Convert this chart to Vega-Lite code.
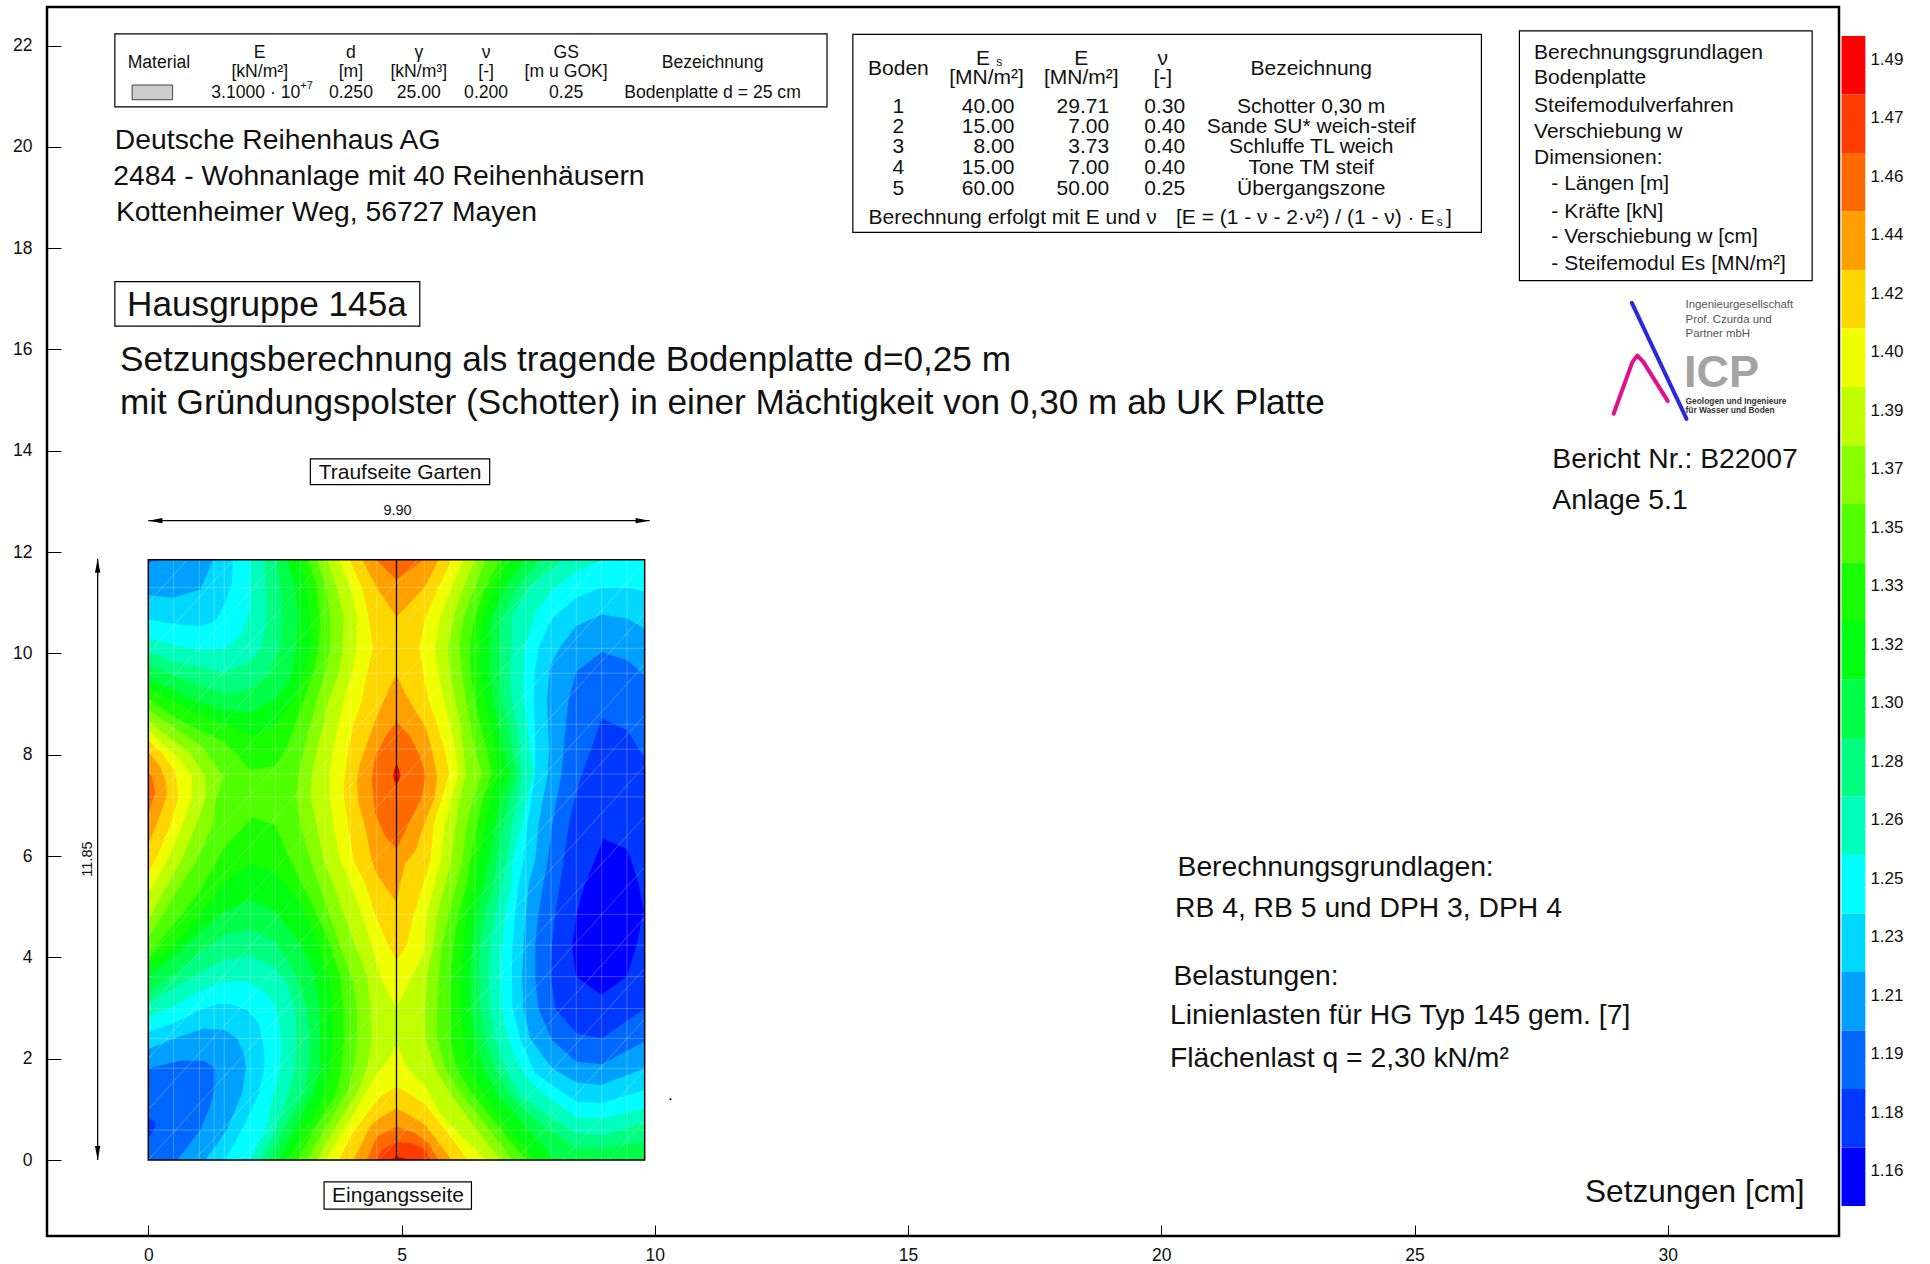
{"$schema":"https://vega.github.io/schema/vega-lite/v6.json","width":1792,"height":1229,"autosize":{"type":"none"},"padding":{"left":47,"top":7,"right":91,"bottom":28},"background":"white","config":{"view":{"stroke":"#000","strokeWidth":2.5},"text":{"font":"Liberation Sans","color":"#111"},"axis":{"labelFont":"Liberation Sans"}},
"datasets":{"poly":[
{"p":"35a","x":0,"y":0},{"p":"35a","x":9.8,"y":0},{"p":"35a","x":9.8,"y":11.85},{"p":"35a","x":0,"y":11.85},
{"p":"37r","x":3.33,"y":11.85},{"p":"37r","x":3.51,"y":11.3},{"p":"37r","x":3.59,"y":10.72},{"p":"37r","x":3.59,"y":10.1},{"p":"37r","x":3.49,"y":9.61},{"p":"37r","x":3.33,"y":9.08},{"p":"37r","x":3.2,"y":8.6},{"p":"37r","x":3.07,"y":8.11},{"p":"37r","x":2.97,"y":7.62},{"p":"37r","x":2.92,"y":7.17},{"p":"37r","x":3.0,"y":6.61},{"p":"37r","x":3.2,"y":5.92},{"p":"37r","x":3.43,"y":5.26},{"p":"37r","x":3.72,"y":4.41},{"p":"37r","x":4.05,"y":3.49},{"p":"37r","x":4.12,"y":2.96},{"p":"37r","x":4.12,"y":2.4},{"p":"37r","x":4.05,"y":1.81},{"p":"37r","x":3.92,"y":1.32},{"p":"37r","x":3.46,"y":0.59},{"p":"37r","x":3.14,"y":0},{"p":"37r","x":7.19,"y":0},{"p":"37r","x":6.65,"y":0.72},{"p":"37r","x":6.16,"y":1.32},{"p":"37r","x":5.86,"y":1.81},{"p":"37r","x":5.7,"y":2.4},{"p":"37r","x":5.7,"y":2.93},{"p":"37r","x":5.73,"y":3.62},{"p":"37r","x":5.8,"y":4.24},{"p":"37r","x":5.93,"y":4.84},{"p":"37r","x":6.09,"y":5.46},{"p":"37r","x":6.2,"y":5.92},{"p":"37r","x":6.29,"y":6.61},{"p":"37r","x":6.42,"y":7.17},{"p":"37r","x":6.59,"y":7.62},{"p":"37r","x":6.45,"y":8.11},{"p":"37r","x":6.36,"y":8.6},{"p":"37r","x":6.27,"y":9.08},{"p":"37r","x":6.19,"y":9.61},{"p":"37r","x":6.14,"y":10.1},{"p":"37r","x":6.22,"y":10.72},{"p":"37r","x":6.45,"y":11.3},{"p":"37r","x":6.66,"y":11.85},
{"p":"37l","x":0,"y":8.89},{"p":"37l","x":0.5,"y":8.55},{"p":"37l","x":1.06,"y":8.16},{"p":"37l","x":1.49,"y":7.57},{"p":"37l","x":1.32,"y":7.04},{"p":"37l","x":1.26,"y":6.58},{"p":"37l","x":0.96,"y":5.92},{"p":"37l","x":0.5,"y":5.2},{"p":"37l","x":0,"y":4.38},
{"p":"39r","x":3.53,"y":11.85},{"p":"39r","x":3.72,"y":11.3},{"p":"39r","x":3.86,"y":10.72},{"p":"39r","x":3.84,"y":10.1},{"p":"39r","x":3.76,"y":9.61},{"p":"39r","x":3.56,"y":9.08},{"p":"39r","x":3.46,"y":8.6},{"p":"39r","x":3.33,"y":8.11},{"p":"39r","x":3.23,"y":7.62},{"p":"39r","x":3.2,"y":7.17},{"p":"39r","x":3.33,"y":6.61},{"p":"39r","x":3.46,"y":5.92},{"p":"39r","x":3.72,"y":5.26},{"p":"39r","x":4.02,"y":4.41},{"p":"39r","x":4.32,"y":3.62},{"p":"39r","x":4.39,"y":2.99},{"p":"39r","x":4.41,"y":2.4},{"p":"39r","x":4.32,"y":1.81},{"p":"39r","x":4.12,"y":1.32},{"p":"39r","x":3.66,"y":0.59},{"p":"39r","x":3.33,"y":0},{"p":"39r","x":6.95,"y":0},{"p":"39r","x":6.45,"y":0.64},{"p":"39r","x":5.96,"y":1.32},{"p":"39r","x":5.66,"y":1.81},{"p":"39r","x":5.47,"y":2.4},{"p":"39r","x":5.47,"y":2.99},{"p":"39r","x":5.5,"y":3.62},{"p":"39r","x":5.63,"y":4.24},{"p":"39r","x":5.7,"y":4.84},{"p":"39r","x":5.86,"y":5.46},{"p":"39r","x":5.99,"y":5.92},{"p":"39r","x":6.06,"y":6.61},{"p":"39r","x":6.16,"y":7.17},{"p":"39r","x":6.27,"y":7.62},{"p":"39r","x":6.22,"y":8.11},{"p":"39r","x":6.16,"y":8.6},{"p":"39r","x":6.06,"y":9.08},{"p":"39r","x":5.96,"y":9.61},{"p":"39r","x":5.91,"y":10.1},{"p":"39r","x":6.03,"y":10.72},{"p":"39r","x":6.22,"y":11.3},{"p":"39r","x":6.45,"y":11.85},
{"p":"39l","x":0,"y":8.68},{"p":"39l","x":0.43,"y":8.32},{"p":"39l","x":0.83,"y":8.03},{"p":"39l","x":1.12,"y":7.57},{"p":"39l","x":1.14,"y":7.17},{"p":"39l","x":0.93,"y":6.58},{"p":"39l","x":0.66,"y":5.92},{"p":"39l","x":0.3,"y":5.3},{"p":"39l","x":0,"y":4.74},
{"p":"40m","x":3.76,"y":11.85},{"p":"40m","x":3.99,"y":11.3},{"p":"40m","x":4.12,"y":10.72},{"p":"40m","x":4.11,"y":10.1},{"p":"40m","x":4.02,"y":9.61},{"p":"40m","x":3.86,"y":9.08},{"p":"40m","x":3.76,"y":8.6},{"p":"40m","x":3.64,"y":8.11},{"p":"40m","x":3.58,"y":7.62},{"p":"40m","x":3.58,"y":7.17},{"p":"40m","x":3.66,"y":6.61},{"p":"40m","x":3.79,"y":5.92},{"p":"40m","x":3.99,"y":5.46},{"p":"40m","x":4.22,"y":4.84},{"p":"40m","x":4.41,"y":4.24},{"p":"40m","x":4.58,"y":3.62},{"p":"40m","x":4.9,"y":2.99},{"p":"40m","x":5.17,"y":3.55},{"p":"40m","x":5.43,"y":4.05},{"p":"40m","x":5.5,"y":4.84},{"p":"40m","x":5.65,"y":5.46},{"p":"40m","x":5.78,"y":5.92},{"p":"40m","x":5.85,"y":6.61},{"p":"40m","x":5.99,"y":7.17},{"p":"40m","x":6.12,"y":7.62},{"p":"40m","x":6.06,"y":8.11},{"p":"40m","x":5.96,"y":8.6},{"p":"40m","x":5.83,"y":9.08},{"p":"40m","x":5.73,"y":9.61},{"p":"40m","x":5.66,"y":10.1},{"p":"40m","x":5.76,"y":10.72},{"p":"40m","x":5.99,"y":11.3},{"p":"40m","x":6.22,"y":11.85},
{"p":"40b","x":4.9,"y":2.32},{"p":"40b","x":4.78,"y":2.05},{"p":"40b","x":4.48,"y":1.66},{"p":"40b","x":4.18,"y":1.12},{"p":"40b","x":3.86,"y":0.59},{"p":"40b","x":3.51,"y":0},{"p":"40b","x":6.68,"y":0},{"p":"40b","x":6.19,"y":0.46},{"p":"40b","x":5.76,"y":0.92},{"p":"40b","x":5.47,"y":1.45},{"p":"40b","x":5.1,"y":1.84},
{"p":"40l","x":0,"y":8.49},{"p":"40l","x":0.3,"y":8.19},{"p":"40l","x":0.57,"y":7.96},{"p":"40l","x":0.86,"y":7.57},{"p":"40l","x":0.86,"y":7.17},{"p":"40l","x":0.66,"y":6.58},{"p":"40l","x":0.38,"y":5.92},{"p":"40l","x":0,"y":5.26},
{"p":"42m","x":3.97,"y":11.85},{"p":"42m","x":4.22,"y":11.3},{"p":"42m","x":4.35,"y":10.72},{"p":"42m","x":4.43,"y":10.1},{"p":"42m","x":4.32,"y":9.61},{"p":"42m","x":4.22,"y":9.08},{"p":"42m","x":4.05,"y":8.6},{"p":"42m","x":3.95,"y":8.11},{"p":"42m","x":3.86,"y":7.43},{"p":"42m","x":3.86,"y":7.17},{"p":"42m","x":3.95,"y":6.61},{"p":"42m","x":4.05,"y":5.92},{"p":"42m","x":4.28,"y":5.46},{"p":"42m","x":4.48,"y":4.84},{"p":"42m","x":4.74,"y":4.24},{"p":"42m","x":4.9,"y":3.95},{"p":"42m","x":5.1,"y":4.24},{"p":"42m","x":5.24,"y":4.84},{"p":"42m","x":5.43,"y":5.46},{"p":"42m","x":5.57,"y":5.92},{"p":"42m","x":5.63,"y":6.61},{"p":"42m","x":5.8,"y":7.17},{"p":"42m","x":5.94,"y":7.62},{"p":"42m","x":5.85,"y":8.11},{"p":"42m","x":5.7,"y":8.6},{"p":"42m","x":5.53,"y":9.08},{"p":"42m","x":5.43,"y":9.61},{"p":"42m","x":5.35,"y":10.1},{"p":"42m","x":5.47,"y":10.72},{"p":"42m","x":5.73,"y":11.3},{"p":"42m","x":5.99,"y":11.85},
{"p":"42b","x":4.9,"y":1.45},{"p":"42b","x":4.58,"y":1.25},{"p":"42b","x":4.32,"y":0.92},{"p":"42b","x":3.99,"y":0.46},{"p":"42b","x":3.77,"y":0},{"p":"42b","x":6.31,"y":0},{"p":"42b","x":5.86,"y":0.59},{"p":"42b","x":5.47,"y":1.09},{"p":"42b","x":5.2,"y":1.28},
{"p":"42l","x":0,"y":8.29},{"p":"42l","x":0.3,"y":8.0},{"p":"42l","x":0.53,"y":7.66},{"p":"42l","x":0.6,"y":7.17},{"p":"42l","x":0.43,"y":6.58},{"p":"42l","x":0.14,"y":5.92},{"p":"42l","x":0,"y":5.69},
{"p":"44t","x":4.22,"y":11.85},{"p":"44t","x":4.51,"y":11.3},{"p":"44t","x":4.9,"y":10.72},{"p":"44t","x":5.45,"y":11.3},{"p":"44t","x":5.73,"y":11.85},
{"p":"44m","x":4.9,"y":9.59},{"p":"44m","x":4.74,"y":9.28},{"p":"44m","x":4.51,"y":8.75},{"p":"44m","x":4.32,"y":8.22},{"p":"44m","x":4.18,"y":7.83},{"p":"44m","x":4.12,"y":7.5},{"p":"44m","x":4.15,"y":7.04},{"p":"44m","x":4.28,"y":6.58},{"p":"44m","x":4.41,"y":5.92},{"p":"44m","x":4.5,"y":5.66},{"p":"44m","x":4.9,"y":5.08},{"p":"44m","x":4.97,"y":5.46},{"p":"44m","x":5.07,"y":5.85},{"p":"44m","x":5.27,"y":6.09},{"p":"44m","x":5.5,"y":6.78},{"p":"44m","x":5.66,"y":7.17},{"p":"44m","x":5.7,"y":7.59},{"p":"44m","x":5.6,"y":8.09},{"p":"44m","x":5.47,"y":8.55},{"p":"44m","x":5.27,"y":8.88},{"p":"44m","x":5.07,"y":9.21},
{"p":"44b","x":4.9,"y":1.02},{"p":"44b","x":4.55,"y":0.82},{"p":"44b","x":4.38,"y":0.66},{"p":"44b","x":4.05,"y":0},{"p":"44b","x":5.99,"y":0},{"p":"44b","x":5.47,"y":0.69},{"p":"44b","x":5.2,"y":0.86},
{"p":"44l","x":0,"y":8.06},{"p":"44l","x":0.24,"y":7.76},{"p":"44l","x":0.36,"y":7.43},{"p":"44l","x":0.36,"y":7.17},{"p":"44l","x":0.17,"y":6.64},{"p":"44l","x":0,"y":6.25},
{"p":"46t","x":4.5,"y":11.85},{"p":"46t","x":4.9,"y":11.45},{"p":"46t","x":5.43,"y":11.85},
{"p":"46m","x":4.9,"y":8.65},{"p":"46m","x":4.68,"y":8.36},{"p":"46m","x":4.48,"y":7.96},{"p":"46m","x":4.41,"y":7.5},{"p":"46m","x":4.48,"y":6.84},{"p":"46m","x":4.68,"y":6.38},{"p":"46m","x":4.9,"y":6.14},{"p":"46m","x":5.14,"y":6.64},{"p":"46m","x":5.39,"y":7.14},{"p":"46m","x":5.48,"y":7.57},{"p":"46m","x":5.37,"y":7.96},{"p":"46m","x":5.17,"y":8.36},
{"p":"46b","x":4.9,"y":0.66},{"p":"46b","x":4.51,"y":0.46},{"p":"46b","x":4.32,"y":0},{"p":"46b","x":5.73,"y":0},{"p":"46b","x":5.53,"y":0.33},{"p":"46b","x":5.27,"y":0.53},
{"p":"46l","x":0,"y":7.66},{"p":"46l","x":0.07,"y":7.57},{"p":"46l","x":0.14,"y":7.24},{"p":"46l","x":0,"y":6.84},
{"p":"47b","x":4.9,"y":0.36},{"p":"47b","x":4.61,"y":0.2},{"p":"47b","x":4.51,"y":0},{"p":"47b","x":5.57,"y":0},{"p":"47b","x":5.47,"y":0.2},{"p":"47b","x":5.2,"y":0.33},
{"p":"49b","x":4.78,"y":0},{"p":"49b","x":4.9,"y":0.08},{"p":"49b","x":5.2,"y":0},
{"p":"49m","x":4.9,"y":7.85},{"p":"49m","x":4.83,"y":7.6},{"p":"49m","x":4.9,"y":7.35},{"p":"49m","x":4.98,"y":7.6},
{"p":"33r","x":6.95,"y":11.85},{"p":"33r","x":6.65,"y":11.3},{"p":"33r","x":6.45,"y":10.72},{"p":"33r","x":6.34,"y":10.1},{"p":"33r","x":6.36,"y":9.61},{"p":"33r","x":6.45,"y":9.08},{"p":"33r","x":6.55,"y":8.6},{"p":"33r","x":6.68,"y":8.11},{"p":"33r","x":6.78,"y":7.62},{"p":"33r","x":6.62,"y":7.17},{"p":"33r","x":6.49,"y":6.61},{"p":"33r","x":6.36,"y":5.92},{"p":"33r","x":6.29,"y":5.46},{"p":"33r","x":6.12,"y":4.84},{"p":"33r","x":6.03,"y":4.24},{"p":"33r","x":5.96,"y":3.62},{"p":"33r","x":5.96,"y":2.99},{"p":"33r","x":5.96,"y":2.4},{"p":"33r","x":6.09,"y":1.81},{"p":"33r","x":6.39,"y":1.32},{"p":"33r","x":6.91,"y":0.66},{"p":"33r","x":7.46,"y":0},{"p":"33r","x":9.8,"y":0},{"p":"33r","x":9.8,"y":11.85},
{"p":"33u","x":0,"y":9.11},{"p":"33u","x":0.5,"y":8.75},{"p":"33u","x":0.99,"y":8.49},{"p":"33u","x":1.49,"y":8.26},{"p":"33u","x":1.82,"y":7.93},{"p":"33u","x":2.01,"y":7.7},{"p":"33u","x":2.51,"y":7.78},{"p":"33u","x":2.74,"y":8.16},{"p":"33u","x":2.93,"y":8.68},{"p":"33u","x":3.07,"y":9.08},{"p":"33u","x":3.26,"y":9.61},{"p":"33u","x":3.36,"y":10.1},{"p":"33u","x":3.39,"y":10.72},{"p":"33u","x":3.33,"y":11.3},{"p":"33u","x":3.16,"y":11.85},{"p":"33u","x":0,"y":11.85},
{"p":"33d","x":0,"y":4.01},{"p":"33d","x":0.5,"y":4.64},{"p":"33d","x":1.03,"y":5.33},{"p":"33d","x":1.49,"y":6.15},{"p":"33d","x":2.05,"y":6.76},{"p":"33d","x":2.51,"y":6.61},{"p":"33d","x":2.8,"y":5.92},{"p":"33d","x":3.13,"y":5.26},{"p":"33d","x":3.53,"y":4.41},{"p":"33d","x":3.79,"y":3.62},{"p":"33d","x":3.86,"y":2.96},{"p":"33d","x":3.86,"y":2.4},{"p":"33d","x":3.82,"y":1.81},{"p":"33d","x":3.72,"y":1.32},{"p":"33d","x":3.26,"y":0.59},{"p":"33d","x":2.95,"y":0},{"p":"33d","x":0,"y":0},
{"p":"32r","x":7.14,"y":11.85},{"p":"32r","x":6.85,"y":11.3},{"p":"32r","x":6.6,"y":10.72},{"p":"32r","x":6.55,"y":10.1},{"p":"32r","x":6.55,"y":9.61},{"p":"32r","x":6.65,"y":9.08},{"p":"32r","x":6.75,"y":8.6},{"p":"32r","x":6.85,"y":8.11},{"p":"32r","x":6.91,"y":7.62},{"p":"32r","x":6.78,"y":7.17},{"p":"32r","x":6.66,"y":6.61},{"p":"32r","x":6.52,"y":5.92},{"p":"32r","x":6.45,"y":5.46},{"p":"32r","x":6.29,"y":4.84},{"p":"32r","x":6.22,"y":4.24},{"p":"32r","x":6.16,"y":3.62},{"p":"32r","x":6.16,"y":2.99},{"p":"32r","x":6.22,"y":2.4},{"p":"32r","x":6.36,"y":1.81},{"p":"32r","x":6.62,"y":1.32},{"p":"32r","x":7.14,"y":0.59},{"p":"32r","x":7.64,"y":0},{"p":"32r","x":9.8,"y":0},{"p":"32r","x":9.8,"y":11.85},
{"p":"32u","x":0,"y":9.34},{"p":"32u","x":0.5,"y":9.05},{"p":"32u","x":0.99,"y":8.82},{"p":"32u","x":1.49,"y":8.62},{"p":"32u","x":2.05,"y":8.37},{"p":"32u","x":2.51,"y":8.6},{"p":"32u","x":2.87,"y":9.08},{"p":"32u","x":3.07,"y":9.61},{"p":"32u","x":3.2,"y":10.1},{"p":"32u","x":3.2,"y":10.72},{"p":"32u","x":3.13,"y":11.3},{"p":"32u","x":3.0,"y":11.85},{"p":"32u","x":0,"y":11.85},
{"p":"32d","x":0,"y":3.85},{"p":"32d","x":0.5,"y":4.24},{"p":"32d","x":0.99,"y":4.8},{"p":"32d","x":1.49,"y":5.46},{"p":"32d","x":2.01,"y":5.86},{"p":"32d","x":2.51,"y":5.66},{"p":"32d","x":2.93,"y":5.2},{"p":"32d","x":3.33,"y":4.34},{"p":"32d","x":3.59,"y":3.49},{"p":"32d","x":3.63,"y":2.96},{"p":"32d","x":3.63,"y":2.4},{"p":"32d","x":3.59,"y":1.81},{"p":"32d","x":3.49,"y":1.32},{"p":"32d","x":3.07,"y":0.59},{"p":"32d","x":2.76,"y":0},{"p":"32d","x":0,"y":0},
{"p":"30r","x":7.43,"y":11.85},{"p":"30r","x":7.05,"y":11.3},{"p":"30r","x":6.78,"y":10.72},{"p":"30r","x":6.75,"y":10.1},{"p":"30r","x":6.75,"y":9.61},{"p":"30r","x":6.82,"y":9.08},{"p":"30r","x":6.91,"y":8.6},{"p":"30r","x":7.01,"y":8.11},{"p":"30r","x":7.14,"y":7.62},{"p":"30r","x":6.98,"y":7.17},{"p":"30r","x":6.85,"y":6.61},{"p":"30r","x":6.72,"y":5.92},{"p":"30r","x":6.62,"y":5.46},{"p":"30r","x":6.49,"y":4.84},{"p":"30r","x":6.39,"y":4.24},{"p":"30r","x":6.36,"y":3.62},{"p":"30r","x":6.36,"y":2.99},{"p":"30r","x":6.45,"y":2.4},{"p":"30r","x":6.62,"y":1.81},{"p":"30r","x":6.91,"y":1.28},{"p":"30r","x":7.45,"y":0.66},{"p":"30r","x":8.03,"y":0},{"p":"30r","x":9.8,"y":0},{"p":"30r","x":9.8,"y":11.85},
{"p":"30u","x":0,"y":9.51},{"p":"30u","x":0.5,"y":9.28},{"p":"30u","x":0.99,"y":9.05},{"p":"30u","x":1.49,"y":8.88},{"p":"30u","x":2.01,"y":8.83},{"p":"30u","x":2.51,"y":9.11},{"p":"30u","x":2.8,"y":9.47},{"p":"30u","x":2.93,"y":10.1},{"p":"30u","x":2.97,"y":10.72},{"p":"30u","x":2.9,"y":11.3},{"p":"30u","x":2.74,"y":11.85},{"p":"30u","x":0,"y":11.85},
{"p":"30d","x":0,"y":3.62},{"p":"30d","x":0.5,"y":4.01},{"p":"30d","x":0.99,"y":4.47},{"p":"30d","x":1.49,"y":4.9},{"p":"30d","x":2.01,"y":5.14},{"p":"30d","x":2.51,"y":4.9},{"p":"30d","x":2.9,"y":4.41},{"p":"30d","x":3.26,"y":3.75},{"p":"30d","x":3.39,"y":2.96},{"p":"30d","x":3.39,"y":2.4},{"p":"30d","x":3.39,"y":1.81},{"p":"30d","x":3.26,"y":1.32},{"p":"30d","x":2.87,"y":0.59},{"p":"30d","x":2.57,"y":0},{"p":"30d","x":0,"y":0},
{"p":"28r","x":7.74,"y":11.85},{"p":"28r","x":7.28,"y":11.3},{"p":"28r","x":6.98,"y":10.72},{"p":"28r","x":6.95,"y":10.1},{"p":"28r","x":6.95,"y":9.61},{"p":"28r","x":6.98,"y":9.08},{"p":"28r","x":7.11,"y":8.6},{"p":"28r","x":7.18,"y":8.11},{"p":"28r","x":7.28,"y":7.62},{"p":"28r","x":7.14,"y":7.17},{"p":"28r","x":7.01,"y":6.61},{"p":"28r","x":6.88,"y":5.92},{"p":"28r","x":6.82,"y":5.46},{"p":"28r","x":6.65,"y":4.84},{"p":"28r","x":6.55,"y":4.24},{"p":"28r","x":6.52,"y":3.62},{"p":"28r","x":6.55,"y":2.99},{"p":"28r","x":6.65,"y":2.4},{"p":"28r","x":6.85,"y":1.81},{"p":"28r","x":7.14,"y":1.28},{"p":"28r","x":7.64,"y":0.79},{"p":"28r","x":8.45,"y":0.23},{"p":"28r","x":8.95,"y":0.23},{"p":"28r","x":9.8,"y":0.36},{"p":"28r","x":9.8,"y":11.85},
{"p":"28u","x":0,"y":9.77},{"p":"28u","x":0.5,"y":9.57},{"p":"28u","x":0.99,"y":9.38},{"p":"28u","x":1.49,"y":9.22},{"p":"28u","x":2.01,"y":9.29},{"p":"28u","x":2.38,"y":9.61},{"p":"28u","x":2.61,"y":10.1},{"p":"28u","x":2.64,"y":10.69},{"p":"28u","x":2.61,"y":11.3},{"p":"28u","x":2.53,"y":11.85},{"p":"28u","x":0,"y":11.85},
{"p":"28d","x":0,"y":3.29},{"p":"28d","x":0.5,"y":3.65},{"p":"28d","x":0.99,"y":4.08},{"p":"28d","x":1.49,"y":4.44},{"p":"28d","x":2.01,"y":4.55},{"p":"28d","x":2.51,"y":4.31},{"p":"28d","x":2.9,"y":3.68},{"p":"28d","x":3.13,"y":2.96},{"p":"28d","x":3.2,"y":2.4},{"p":"28d","x":3.16,"y":1.81},{"p":"28d","x":3.07,"y":1.32},{"p":"28d","x":2.67,"y":0.59},{"p":"28d","x":2.39,"y":0},{"p":"28d","x":0,"y":0},
{"p":"26r","x":8.16,"y":11.85},{"p":"26r","x":7.51,"y":11.3},{"p":"26r","x":7.18,"y":10.72},{"p":"26r","x":7.18,"y":10.1},{"p":"26r","x":7.14,"y":9.61},{"p":"26r","x":7.18,"y":9.08},{"p":"26r","x":7.28,"y":8.6},{"p":"26r","x":7.34,"y":8.11},{"p":"26r","x":7.38,"y":7.62},{"p":"26r","x":7.31,"y":7.17},{"p":"26r","x":7.18,"y":6.61},{"p":"26r","x":7.08,"y":5.92},{"p":"26r","x":6.98,"y":5.46},{"p":"26r","x":6.85,"y":4.84},{"p":"26r","x":6.75,"y":4.24},{"p":"26r","x":6.72,"y":3.62},{"p":"26r","x":6.75,"y":2.99},{"p":"26r","x":6.85,"y":2.4},{"p":"26r","x":7.05,"y":1.81},{"p":"26r","x":7.34,"y":1.28},{"p":"26r","x":7.97,"y":0.82},{"p":"26r","x":8.45,"y":0.53},{"p":"26r","x":8.95,"y":0.49},{"p":"26r","x":9.8,"y":0.72},{"p":"26r","x":9.8,"y":11.85},
{"p":"26u","x":0,"y":10.03},{"p":"26u","x":0.5,"y":9.84},{"p":"26u","x":0.99,"y":9.74},{"p":"26u","x":1.49,"y":9.61},{"p":"26u","x":2.01,"y":9.84},{"p":"26u","x":2.24,"y":10.1},{"p":"26u","x":2.34,"y":10.72},{"p":"26u","x":2.31,"y":11.3},{"p":"26u","x":2.29,"y":11.85},{"p":"26u","x":0,"y":11.85},
{"p":"26d","x":0,"y":3.09},{"p":"26d","x":0.5,"y":3.39},{"p":"26d","x":0.99,"y":3.68},{"p":"26d","x":1.49,"y":3.95},{"p":"26d","x":2.01,"y":4.03},{"p":"26d","x":2.47,"y":3.82},{"p":"26d","x":2.74,"y":3.49},{"p":"26d","x":2.9,"y":2.96},{"p":"26d","x":2.92,"y":2.4},{"p":"26d","x":2.9,"y":1.81},{"p":"26d","x":2.77,"y":1.32},{"p":"26d","x":2.51,"y":0.59},{"p":"26d","x":2.2,"y":0},{"p":"26d","x":0,"y":0},
{"p":"25r","x":8.95,"y":11.85},{"p":"25r","x":8.45,"y":11.61},{"p":"25r","x":7.97,"y":11.25},{"p":"25r","x":7.64,"y":10.79},{"p":"25r","x":7.43,"y":10.1},{"p":"25r","x":7.41,"y":9.61},{"p":"25r","x":7.41,"y":9.08},{"p":"25r","x":7.48,"y":8.6},{"p":"25r","x":7.54,"y":8.11},{"p":"25r","x":7.61,"y":7.62},{"p":"25r","x":7.48,"y":7.17},{"p":"25r","x":7.38,"y":6.61},{"p":"25r","x":7.19,"y":5.92},{"p":"25r","x":7.18,"y":5.46},{"p":"25r","x":7.05,"y":4.84},{"p":"25r","x":6.98,"y":4.24},{"p":"25r","x":6.95,"y":3.62},{"p":"25r","x":6.98,"y":2.99},{"p":"25r","x":7.11,"y":2.4},{"p":"25r","x":7.34,"y":1.81},{"p":"25r","x":7.7,"y":1.38},{"p":"25r","x":8.45,"y":0.86},{"p":"25r","x":8.95,"y":0.82},{"p":"25r","x":9.8,"y":1.02},{"p":"25r","x":9.8,"y":11.85},
{"p":"25u","x":0,"y":10.3},{"p":"25u","x":0.5,"y":10.16},{"p":"25u","x":1.03,"y":10.07},{"p":"25u","x":1.49,"y":10.08},{"p":"25u","x":1.82,"y":10.36},{"p":"25u","x":2.01,"y":10.86},{"p":"25u","x":2.01,"y":11.38},{"p":"25u","x":2.01,"y":11.85},{"p":"25u","x":0,"y":11.85},
{"p":"25d","x":0,"y":2.83},{"p":"25d","x":0.5,"y":3.03},{"p":"25d","x":0.99,"y":3.32},{"p":"25d","x":1.49,"y":3.52},{"p":"25d","x":1.95,"y":3.52},{"p":"25d","x":2.34,"y":3.29},{"p":"25d","x":2.54,"y":2.96},{"p":"25d","x":2.62,"y":2.4},{"p":"25d","x":2.61,"y":1.81},{"p":"25d","x":2.47,"y":1.32},{"p":"25d","x":2.31,"y":0.59},{"p":"25d","x":2.01,"y":0},{"p":"25d","x":0,"y":0},
{"p":"23r","x":9.8,"y":11.22},{"p":"23r","x":9.45,"y":11.3},{"p":"23r","x":8.95,"y":11.3},{"p":"23r","x":8.45,"y":11.1},{"p":"23r","x":7.97,"y":10.69},{"p":"23r","x":7.7,"y":10.1},{"p":"23r","x":7.63,"y":9.61},{"p":"23r","x":7.61,"y":9.08},{"p":"23r","x":7.63,"y":8.6},{"p":"23r","x":7.64,"y":8.11},{"p":"23r","x":7.63,"y":7.62},{"p":"23r","x":7.57,"y":7.17},{"p":"23r","x":7.48,"y":6.61},{"p":"23r","x":7.41,"y":5.92},{"p":"23r","x":7.31,"y":5.46},{"p":"23r","x":7.24,"y":4.84},{"p":"23r","x":7.19,"y":4.24},{"p":"23r","x":7.18,"y":3.62},{"p":"23r","x":7.19,"y":2.99},{"p":"23r","x":7.34,"y":2.4},{"p":"23r","x":7.64,"y":1.71},{"p":"23r","x":8.45,"y":1.15},{"p":"23r","x":8.95,"y":1.12},{"p":"23r","x":9.8,"y":1.38},
{"p":"23u","x":0,"y":10.67},{"p":"23u","x":0.5,"y":10.58},{"p":"23u","x":1.03,"y":10.53},{"p":"23u","x":1.32,"y":10.64},{"p":"23u","x":1.52,"y":10.99},{"p":"23u","x":1.65,"y":11.38},{"p":"23u","x":1.67,"y":11.85},{"p":"23u","x":0,"y":11.85},
{"p":"23d","x":0,"y":2.53},{"p":"23d","x":0.57,"y":2.73},{"p":"23d","x":1.03,"y":2.96},{"p":"23d","x":1.36,"y":3.08},{"p":"23d","x":1.62,"y":3.08},{"p":"23d","x":1.95,"y":2.96},{"p":"23d","x":2.18,"y":2.7},{"p":"23d","x":2.29,"y":2.17},{"p":"23d","x":2.29,"y":1.81},{"p":"23d","x":2.18,"y":1.32},{"p":"23d","x":1.91,"y":0.72},{"p":"23d","x":1.52,"y":0},{"p":"23d","x":0,"y":0},
{"p":"21r","x":9.8,"y":10.49},{"p":"21r","x":9.45,"y":10.69},{"p":"21r","x":8.95,"y":10.77},{"p":"21r","x":8.45,"y":10.54},{"p":"21r","x":8.13,"y":10.13},{"p":"21r","x":7.93,"y":9.74},{"p":"21r","x":7.87,"y":9.08},{"p":"21r","x":7.89,"y":8.6},{"p":"21r","x":7.91,"y":8.11},{"p":"21r","x":7.89,"y":7.62},{"p":"21r","x":7.8,"y":7.17},{"p":"21r","x":7.7,"y":6.61},{"p":"21r","x":7.64,"y":5.92},{"p":"21r","x":7.51,"y":5.46},{"p":"21r","x":7.45,"y":4.84},{"p":"21r","x":7.41,"y":4.24},{"p":"21r","x":7.38,"y":3.62},{"p":"21r","x":7.41,"y":2.99},{"p":"21r","x":7.54,"y":2.4},{"p":"21r","x":7.97,"y":1.81},{"p":"21r","x":8.45,"y":1.53},{"p":"21r","x":8.95,"y":1.48},{"p":"21r","x":9.8,"y":1.81},
{"p":"21u","x":0,"y":11.15},{"p":"21u","x":0.5,"y":11.1},{"p":"21u","x":1.03,"y":11.26},{"p":"21u","x":1.28,"y":11.85},{"p":"21u","x":0,"y":11.85},
{"p":"21d","x":0,"y":2.19},{"p":"21d","x":0.5,"y":2.4},{"p":"21d","x":1.09,"y":2.59},{"p":"21d","x":1.49,"y":2.57},{"p":"21d","x":1.75,"y":2.4},{"p":"21d","x":1.88,"y":2.11},{"p":"21d","x":1.93,"y":1.81},{"p":"21d","x":1.85,"y":1.32},{"p":"21d","x":1.55,"y":0.59},{"p":"21d","x":1.13,"y":0},{"p":"21d","x":0,"y":0},
{"p":"19r","x":9.8,"y":9.57},{"p":"19r","x":9.45,"y":9.87},{"p":"19r","x":8.95,"y":10.03},{"p":"19r","x":8.45,"y":9.64},{"p":"19r","x":8.3,"y":9.08},{"p":"19r","x":8.24,"y":8.6},{"p":"19r","x":8.2,"y":8.11},{"p":"19r","x":8.16,"y":7.62},{"p":"19r","x":8.07,"y":7.17},{"p":"19r","x":7.97,"y":6.61},{"p":"19r","x":7.89,"y":5.92},{"p":"19r","x":7.8,"y":5.46},{"p":"19r","x":7.7,"y":4.84},{"p":"19r","x":7.64,"y":4.24},{"p":"19r","x":7.64,"y":3.62},{"p":"19r","x":7.7,"y":2.99},{"p":"19r","x":7.97,"y":2.37},{"p":"19r","x":8.45,"y":1.94},{"p":"19r","x":8.95,"y":1.89},{"p":"19r","x":9.8,"y":2.34},
{"p":"19u","x":0,"y":11.85},{"p":"19u","x":0.24,"y":11.85},{"p":"19u","x":0,"y":11.79},
{"p":"19d","x":0,"y":1.81},{"p":"19d","x":0.63,"y":1.96},{"p":"19d","x":1.09,"y":1.96},{"p":"19d","x":1.32,"y":1.81},{"p":"19d","x":1.32,"y":1.45},{"p":"19d","x":1.22,"y":1.05},{"p":"19d","x":1.03,"y":0.59},{"p":"19d","x":0.57,"y":0},{"p":"19d","x":0,"y":0},
{"p":"18r","x":9.8,"y":7.93},{"p":"18r","x":9.45,"y":8.49},{"p":"18r","x":8.95,"y":8.72},{"p":"18r","x":8.76,"y":8.16},{"p":"18r","x":8.56,"y":7.62},{"p":"18r","x":8.43,"y":7.17},{"p":"18r","x":8.3,"y":6.61},{"p":"18r","x":8.2,"y":5.92},{"p":"18r","x":8.13,"y":5.46},{"p":"18r","x":8.03,"y":4.84},{"p":"18r","x":7.97,"y":4.24},{"p":"18r","x":7.95,"y":3.62},{"p":"18r","x":8.03,"y":2.99},{"p":"18r","x":8.45,"y":2.5},{"p":"18r","x":8.95,"y":2.4},{"p":"18r","x":9.8,"y":2.99},
{"p":"18d","x":0,"y":0.82},{"p":"18d","x":0.14,"y":0.76},{"p":"18d","x":0.14,"y":0.66},{"p":"18d","x":0.04,"y":0.47},{"p":"18d","x":0,"y":0.46},
{"p":"16r","x":8.98,"y":6.34},{"p":"16r","x":9.45,"y":6.14},{"p":"16r","x":9.53,"y":5.92},{"p":"16r","x":9.68,"y":5.46},{"p":"16r","x":9.78,"y":4.93},{"p":"16r","x":9.64,"y":4.24},{"p":"16r","x":9.45,"y":3.62},{"p":"16r","x":8.95,"y":3.26},{"p":"16r","x":8.44,"y":3.62},{"p":"16r","x":8.37,"y":4.24},{"p":"16r","x":8.45,"y":4.84},{"p":"16r","x":8.62,"y":5.46},{"p":"16r","x":8.82,"y":5.92}
],
"mesh":[{"x":0.5,"x2":0.5,"y":0,"y2":11.85},{"x":1.01,"x2":1.01,"y":0,"y2":11.85},{"x":1.3,"x2":1.3,"y":0,"y2":11.85},{"x":1.5,"x2":1.5,"y":0,"y2":11.85},{"x":2.01,"x2":2.01,"y":0,"y2":11.85},{"x":2.51,"x2":2.51,"y":0,"y2":11.85},{"x":3.0,"x2":3.0,"y":0,"y2":11.85},{"x":3.49,"x2":3.49,"y":0,"y2":11.85},{"x":3.99,"x2":3.99,"y":0,"y2":11.85},{"x":4.51,"x2":4.51,"y":0,"y2":11.85},{"x":5.45,"x2":5.45,"y":0,"y2":11.85},{"x":5.96,"x2":5.96,"y":0,"y2":11.85},{"x":6.45,"x2":6.45,"y":0,"y2":11.85},{"x":6.95,"x2":6.95,"y":0,"y2":11.85},{"x":7.45,"x2":7.45,"y":0,"y2":11.85},{"x":7.95,"x2":7.95,"y":0,"y2":11.85},{"x":8.45,"x2":8.45,"y":0,"y2":11.85},{"x":8.95,"x2":8.95,"y":0,"y2":11.85},{"x":9.45,"x2":9.45,"y":0,"y2":11.85},
{"x":0,"x2":9.8,"y":11.3,"y2":11.3},{"x":0,"x2":9.8,"y":10.1,"y2":10.1},{"x":0,"x2":9.8,"y":9.61,"y2":9.61},{"x":0,"x2":9.8,"y":8.6,"y2":8.6},{"x":0,"x2":9.8,"y":8.11,"y2":8.11},{"x":0,"x2":9.8,"y":7.62,"y2":7.62},{"x":0,"x2":9.8,"y":7.17,"y2":7.17},{"x":0,"x2":9.8,"y":4.85,"y2":4.85},{"x":0,"x2":9.8,"y":4.24,"y2":4.24},{"x":0,"x2":9.8,"y":3.62,"y2":3.62},{"x":0,"x2":9.8,"y":2.99,"y2":2.99},{"x":0,"x2":9.8,"y":2.4,"y2":2.4},{"x":0,"x2":9.8,"y":1.81,"y2":1.81},{"x":0,"x2":9.8,"y":0.59,"y2":0.59},
{"x":0,"x2":0.77,"y":11,"y2":11.85},{"x":0,"x2":1.68,"y":10,"y2":11.85},{"x":0,"x2":2.59,"y":9,"y2":11.85},{"x":0,"x2":3.5,"y":8,"y2":11.85},{"x":0,"x2":4.41,"y":7,"y2":11.85},{"x":0,"x2":5.32,"y":6,"y2":11.85},{"x":0,"x2":6.23,"y":5,"y2":11.85},{"x":0,"x2":7.14,"y":4,"y2":11.85},{"x":0,"x2":8.05,"y":3,"y2":11.85},{"x":0,"x2":8.95,"y":2,"y2":11.85},{"x":0,"x2":9.8,"y":1,"y2":11.78},{"x":0,"x2":9.8,"y":0,"y2":10.78},{"x":0.91,"x2":9.8,"y":0,"y2":9.78},{"x":1.82,"x2":9.8,"y":0,"y2":8.78},{"x":2.73,"x2":9.8,"y":0,"y2":7.78},{"x":3.64,"x2":9.8,"y":0,"y2":6.78},{"x":4.55,"x2":9.8,"y":0,"y2":5.78},{"x":5.45,"x2":9.8,"y":0,"y2":4.78},{"x":6.36,"x2":9.8,"y":0,"y2":3.78},{"x":7.27,"x2":9.8,"y":0,"y2":2.78},{"x":8.18,"x2":9.8,"y":0,"y2":1.78},{"x":9.09,"x2":9.8,"y":0,"y2":0.78}],
"bands":[{"p":"49b","t":"1.49","x":33.43,"x2":33.9,"lx":34.0,"y":22.19,"y2":21.035,"m":21.72},{"p":"47b","t":"1.47","x":33.43,"x2":33.9,"lx":34.0,"y":21.035,"y2":19.88,"m":20.565},{"p":"46m","t":"1.46","x":33.43,"x2":33.9,"lx":34.0,"y":19.88,"y2":18.725,"m":19.41},{"p":"44m","t":"1.44","x":33.43,"x2":33.9,"lx":34.0,"y":18.725,"y2":17.57,"m":18.255},{"p":"42m","t":"1.42","x":33.43,"x2":33.9,"lx":34.0,"y":17.57,"y2":16.415,"m":17.1},{"p":"40m","t":"1.40","x":33.43,"x2":33.9,"lx":34.0,"y":16.415,"y2":15.26,"m":15.945},{"p":"39r","t":"1.39","x":33.43,"x2":33.9,"lx":34.0,"y":15.26,"y2":14.105,"m":14.79},{"p":"37r","t":"1.37","x":33.43,"x2":33.9,"lx":34.0,"y":14.105,"y2":12.95,"m":13.635},{"p":"35a","t":"1.35","x":33.43,"x2":33.9,"lx":34.0,"y":12.95,"y2":11.795,"m":12.48},{"p":"33r","t":"1.33","x":33.43,"x2":33.9,"lx":34.0,"y":11.795,"y2":10.64,"m":11.325},{"p":"32r","t":"1.32","x":33.43,"x2":33.9,"lx":34.0,"y":10.64,"y2":9.485,"m":10.17},{"p":"30r","t":"1.30","x":33.43,"x2":33.9,"lx":34.0,"y":9.485,"y2":8.33,"m":9.015},{"p":"28r","t":"1.28","x":33.43,"x2":33.9,"lx":34.0,"y":8.33,"y2":7.175,"m":7.86},{"p":"26r","t":"1.26","x":33.43,"x2":33.9,"lx":34.0,"y":7.175,"y2":6.02,"m":6.705},{"p":"25r","t":"1.25","x":33.43,"x2":33.9,"lx":34.0,"y":6.02,"y2":4.865,"m":5.55},{"p":"23r","t":"1.23","x":33.43,"x2":33.9,"lx":34.0,"y":4.865,"y2":3.71,"m":4.395},{"p":"21r","t":"1.21","x":33.43,"x2":33.9,"lx":34.0,"y":3.71,"y2":2.555,"m":3.24},{"p":"19r","t":"1.19","x":33.43,"x2":33.9,"lx":34.0,"y":2.555,"y2":1.4,"m":2.085},{"p":"18r","t":"1.18","x":33.43,"x2":33.9,"lx":34.0,"y":1.4,"y2":0.245,"m":0.93},{"p":"16r","t":"1.16","x":33.43,"x2":33.9,"lx":34.0,"y":0.245,"y2":-0.91,"m":-0.225}]},
"encoding":{"x":{"field":"x","type":"quantitative","title":null,"scale":{"domain":[-2.0,33.38],"nice":false,"zero":false},"axis":{"values":[0,5,10,15,20,25,30],"grid":false,"domain":false,"tickSize":-11,"tickColor":"#000","tickWidth":1,"labelFontSize":17.5,"labelColor":"#111","labelPadding":21,"labelFlush":false}},"y":{"field":"y","type":"quantitative","title":null,"scale":{"domain":[-1.5,22.76],"nice":false,"zero":false},"axis":{"values":[0,2,4,6,8,10,12,14,16,18,20,22],"grid":false,"domain":false,"tickSize":-14,"tickColor":"#000","tickWidth":1,"labelFontSize":17.5,"labelColor":"#111","labelPadding":29}}},
"layer":[
{"data":{"name":"poly"},"mark":{"type":"line","interpolate":"linear-closed","strokeWidth":0,"clip":false},"encoding":{"detail":{"field":"p"},"order":{"value":null},"fill":{"field":"p","type":"nominal","legend":null,"scale":{"domain":["35a","37r","37l","39r","39l","40m","40b","40l","42m","42b","42l","44t","44m","44b","44l","46t","46m","46b","46l","47b","49b","49m","33r","33u","33d","32r","32u","32d","30r","30u","30d","28r","28u","28d","26r","26u","26d","25r","25u","25d","23r","23u","23d","21r","21u","21d","19r","19u","19d","18r","18d","16r"],"range":["#50ff00","#88ff00","#88ff00","#c0ff00","#c0ff00","#f0ff00","#f0ff00","#f0ff00","#ffd700","#ffd700","#ffd700","#ffa000","#ffa000","#ffa000","#ffa000","#ff6a00","#ff6a00","#ff6a00","#ff6a00","#ff3c00","#ff0000","#ff0000","#1aff00","#1aff00","#1aff00","#00ff10","#00ff10","#00ff10","#00ff48","#00ff48","#00ff48","#00ff80","#00ff80","#00ff80","#00ffbc","#00ffbc","#00ffbc","#00ffff","#00ffff","#00ffff","#00d8ff","#00d8ff","#00d8ff","#00a0ff","#00a0ff","#00a0ff","#0068ff","#0068ff","#0068ff","#0038ff","#0038ff","#0000ff"]}}}},
{"data":{"name":"mesh"},"mark":{"type":"rule","color":"#fff","opacity":0.25,"strokeWidth":1},"encoding":{"x2":{"field":"x2"},"y2":{"field":"y2"}}},
{"data":{"name":"bands"},"mark":{"type":"rect"},"encoding":{"x2":{"field":"x2"},"y2":{"field":"y2"},"fill":{"field":"p","type":"nominal","legend":null}}},
{"data":{"name":"bands"},"mark":{"type":"text","align":"left","baseline":"middle","fontSize":17},"encoding":{"x":{"field":"lx","type":"quantitative"},"y":{"field":"m","type":"quantitative"},"text":{"field":"t"}}},
{"data":{"values":[{"x":0,"x2":9.8,"y":0,"y2":11.85}]},"mark":{"type":"rect","fill":null,"stroke":"#000","strokeWidth":1.5},"encoding":{"x2":{"field":"x2"},"y2":{"field":"y2"}}},
{"data":{"values":[{"x":4.9,"x2":4.9,"y":0,"y2":11.85},{"x":0,"x2":9.9,"y":12.62,"y2":12.62},{"x":-1,"x2":-1,"y":0,"y2":11.87}]},"mark":{"type":"rule","color":"#000","strokeWidth":1.3},"encoding":{"x2":{"field":"x2"},"y2":{"field":"y2"}}},
{"data":{"values":[{"d":"l","x":0.14,"y":12.62},{"d":"r","x":9.76,"y":12.62},{"d":"u","x":-1,"y":11.73},{"d":"n","x":-1,"y":0.14}]},"mark":{"type":"point","filled":true,"color":"#000","size":196,"opacity":1},"encoding":{"shape":{"field":"d","type":"nominal","legend":null,"scale":{"domain":["l","r","u","n"],"range":["M-1,0L1,-0.38L1,0.38Z","M1,0L-1,-0.38L-1,0.38Z","M0,-1L-0.38,1L0.38,1Z","M0,1L-0.38,-1L0.38,-1Z"]}}}},
{"data":{"values":[{"x":10.31,"y":1.2}]},"mark":{"type":"point","filled":true,"color":"#000","size":4,"opacity":1}},
{"data":{"values":[{"x":-0.66,"x2":13.4,"y":22.23,"y2":20.79},{"x":13.91,"x2":26.32,"y":22.22,"y2":18.31},{"x":27.07,"x2":32.85,"y":22.29,"y2":17.36},{"x":-0.66,"x2":5.36,"y":17.34,"y2":16.46},{"x":3.2,"x2":6.74,"y":13.84,"y2":13.33},{"x":3.47,"x2":6.38,"y":-0.43,"y2":-0.97}]},"mark":{"type":"rect","fill":"#fff","stroke":"#000","strokeWidth":1.2},"encoding":{"x2":{"field":"x2"},"y2":{"field":"y2"}}},
{"data":{"values":[{"x":-0.32,"x2":0.48,"y":21.22,"y2":20.93}]},"mark":{"type":"rect","fill":"#cccccc","stroke":"#444","strokeWidth":1},"encoding":{"x2":{"field":"x2"},"y2":{"field":"y2"}}},
{"data":{"values":[{"x":29.29,"y":16.92},{"x":30.37,"y":14.63}]},"mark":{"type":"line","color":"#2a2adc","strokeWidth":4,"strokeCap":"round"},"encoding":{"order":{"value":null}}},
{"data":{"values":[{"x":28.93,"y":14.73},{"x":29.3,"y":15.75},{"x":29.4,"y":15.88},{"x":29.52,"y":15.75},{"x":30.0,"y":14.98}]},"mark":{"type":"line","color":"#e0108c","strokeWidth":4,"strokeCap":"round","strokeJoin":"round"},"encoding":{"order":{"value":null}}},
{"data":{"values":[{"x":30.32,"y":15.53,"t":"ICP"}]},"mark":{"type":"text","align":"left","baseline":"middle","fontSize":45,"fontWeight":"bold","color":"#a3a3a3"},"encoding":{"text":{"field":"t"}}},
{"data":{"values":[{"x":30.35,"y":16.87,"t":"Ingenieurgesellschaft"},{"x":30.35,"y":16.58,"t":"Prof. Czurda und"},{"x":30.35,"y":16.31,"t":"Partner mbH"}]},"mark":{"type":"text","align":"left","baseline":"middle","fontSize":11.4,"color":"#555"},"encoding":{"text":{"field":"t"}}},
{"data":{"values":[{"x":30.35,"y":14.98,"t":"Geologen und Ingenieure"},{"x":30.35,"y":14.81,"t":"für Wasser und Boden"}]},"mark":{"type":"text","align":"left","baseline":"middle","fontSize":8.4,"fontWeight":"bold","color":"#333"},"encoding":{"text":{"field":"t"}}},
{"data":{"values":[{"x":0.21,"y":21.68,"t":"Material"},{"x":2.2,"y":21.88,"t":"E"},{"x":2.2,"y":21.49,"t":"[kN/m²]"},{"x":4.0,"y":21.88,"t":"d"},{"x":4.0,"y":21.49,"t":"[m]"},{"x":4.0,"y":21.08,"t":"0.250"},{"x":5.34,"y":21.88,"t":"γ"},{"x":5.34,"y":21.49,"t":"[kN/m³]"},{"x":5.34,"y":21.08,"t":"25.00"},{"x":6.67,"y":21.88,"t":"ν"},{"x":6.67,"y":21.49,"t":"[-]"},{"x":6.67,"y":21.08,"t":"0.200"},{"x":8.25,"y":21.88,"t":"GS"},{"x":8.25,"y":21.49,"t":"[m u GOK]"},{"x":8.25,"y":21.08,"t":"0.25"},{"x":11.14,"y":21.68,"t":"Bezeichnung"},{"x":11.14,"y":21.08,"t":"Bodenplatte d = 25 cm"}]},"mark":{"type":"text","baseline":"middle","fontSize":17.6,"dy":1},"encoding":{"text":{"field":"t"}}},
{"data":{"values":[{"x":3.0,"y":21.08,"t":"3.1000 · 10"}]},"mark":{"type":"text","align":"right","baseline":"middle","fontSize":17.6,"dy":1},"encoding":{"text":{"field":"t"}}},
{"data":{"values":[{"x":3.0,"y":21.2,"t":"+7"}]},"mark":{"type":"text","align":"left","baseline":"middle","fontSize":11},"encoding":{"text":{"field":"t"}}},
{"data":{"values":[{"x":14.81,"y":21.56,"t":"Boden"},{"x":18.42,"y":21.76,"t":"E"},{"x":16.48,"y":21.76,"t":"E"},{"x":16.55,"y":21.37,"t":"[MN/m²]"},{"x":18.42,"y":21.37,"t":"[MN/m²]"},{"x":20.03,"y":21.76,"t":"ν"},{"x":20.03,"y":21.37,"t":"[-]"},{"x":22.96,"y":21.56,"t":"Bezeichnung"},{"x":14.81,"y":20.81,"t":"1"},{"x":14.81,"y":20.42,"t":"2"},{"x":14.81,"y":20.01,"t":"3"},{"x":14.81,"y":19.6,"t":"4"},{"x":14.81,"y":19.18,"t":"5"},{"x":22.96,"y":20.81,"t":"Schotter 0,30 m"},{"x":22.96,"y":20.42,"t":"Sande SU* weich-steif"},{"x":22.96,"y":20.01,"t":"Schluffe TL weich"},{"x":22.96,"y":19.6,"t":"Tone TM steif"},{"x":22.96,"y":19.18,"t":"Übergangszone"}]},"mark":{"type":"text","baseline":"middle","fontSize":21,"dy":1},"encoding":{"text":{"field":"t"}}},
{"data":{"values":[{"x":16.74,"y":21.68,"t":"s"},{"x":25.44,"y":18.52,"t":"s"}]},"mark":{"type":"text","align":"left","baseline":"middle","fontSize":12},"encoding":{"text":{"field":"t"}}},
{"data":{"values":[{"x":17.1,"y":20.81,"t":"40.00"},{"x":17.1,"y":20.42,"t":"15.00"},{"x":17.1,"y":20.01,"t":"8.00"},{"x":17.1,"y":19.6,"t":"15.00"},{"x":17.1,"y":19.18,"t":"60.00"},{"x":18.97,"y":20.81,"t":"29.71"},{"x":18.97,"y":20.42,"t":"7.00"},{"x":18.97,"y":20.01,"t":"3.73"},{"x":18.97,"y":19.6,"t":"7.00"},{"x":18.97,"y":19.18,"t":"50.00"},{"x":20.47,"y":20.81,"t":"0.30"},{"x":20.47,"y":20.42,"t":"0.40"},{"x":20.47,"y":20.01,"t":"0.40"},{"x":20.47,"y":19.6,"t":"0.40"},{"x":20.47,"y":19.18,"t":"0.25"}]},"mark":{"type":"text","align":"right","baseline":"middle","fontSize":21,"dy":1},"encoding":{"text":{"field":"t"}}},
{"data":{"values":[{"x":14.22,"y":18.62,"t":"Berechnung erfolgt mit E und ν"},{"x":20.29,"y":18.62,"t":"[E = (1 - ν - 2·ν²) / (1 - ν) · E"},{"x":25.62,"y":18.62,"t":"]"},{"x":27.36,"y":21.88,"t":"Berechnungsgrundlagen"},{"x":27.36,"y":21.37,"t":"Bodenplatte"},{"x":27.36,"y":20.83,"t":"Steifemodulverfahren"},{"x":27.36,"y":20.32,"t":"Verschiebung w"},{"x":27.36,"y":19.79,"t":"Dimensionen:"},{"x":27.7,"y":19.28,"t":"- Längen [m]"},{"x":27.7,"y":18.74,"t":"- Kräfte [kN]"},{"x":27.7,"y":18.23,"t":"- Verschiebung w [cm]"},{"x":27.7,"y":17.7,"t":"- Steifemodul Es [MN/m²]"}]},"mark":{"type":"text","align":"left","baseline":"middle","fontSize":21,"dy":1},"encoding":{"text":{"field":"t"}}},
{"data":{"values":[{"x":-0.66,"y":20.15,"t":"Deutsche Reihenhaus AG"},{"x":-0.69,"y":19.43,"t":"2484 - Wohnanlage mit 40 Reihenhäusern"},{"x":-0.64,"y":18.72,"t":"Kottenheimer Weg, 56727 Mayen"},{"x":27.72,"y":13.84,"t":"Bericht Nr.: B22007"},{"x":27.72,"y":13.03,"t":"Anlage 5.1"},{"x":20.32,"y":5.79,"t":"Berechnungsgrundlagen:"},{"x":20.27,"y":4.99,"t":"RB 4, RB 5 und DPH 3, DPH 4"},{"x":20.24,"y":3.65,"t":"Belastungen:"},{"x":20.17,"y":2.88,"t":"Linienlasten für HG Typ 145 gem. [7]"},{"x":20.17,"y":2.03,"t":"Flächenlast q = 2,30 kN/m²"}]},"mark":{"type":"text","align":"left","baseline":"middle","fontSize":28.3,"dy":1.5},"encoding":{"text":{"field":"t"}}},
{"data":{"values":[{"x":-0.42,"y":16.9,"t":"Hausgruppe 145a"},{"x":-0.56,"y":15.83,"t":"Setzungsberechnung als tragende Bodenplatte d=0,25 m"},{"x":-0.56,"y":14.98,"t":"mit Gründungspolster (Schotter) in einer Mächtigkeit von 0,30 m ab UK Platte"}]},"mark":{"type":"text","align":"left","baseline":"middle","fontSize":35.2,"dy":1.5},"encoding":{"text":{"field":"t"}}},
{"data":{"values":[{"x":32.7,"y":-0.62,"t":"Setzungen [cm]"}]},"mark":{"type":"text","align":"right","baseline":"middle","fontSize":31.6,"dy":2},"encoding":{"text":{"field":"t"}}},
{"data":{"values":[{"x":4.97,"y":13.58,"t":"Traufseite Garten"},{"x":4.93,"y":-0.7,"t":"Eingangsseite"}]},"mark":{"type":"text","baseline":"middle","fontSize":21,"dy":1},"encoding":{"text":{"field":"t"}}},
{"data":{"values":[{"x":4.92,"y":12.82,"t":"9.90"}]},"mark":{"type":"text","baseline":"middle","fontSize":14.5},"encoding":{"text":{"field":"t"}}},
{"data":{"values":[{"x":-1.2,"y":5.94,"t":"11.85"}]},"mark":{"type":"text","baseline":"middle","fontSize":14.5,"angle":270},"encoding":{"text":{"field":"t"}}}
]}
